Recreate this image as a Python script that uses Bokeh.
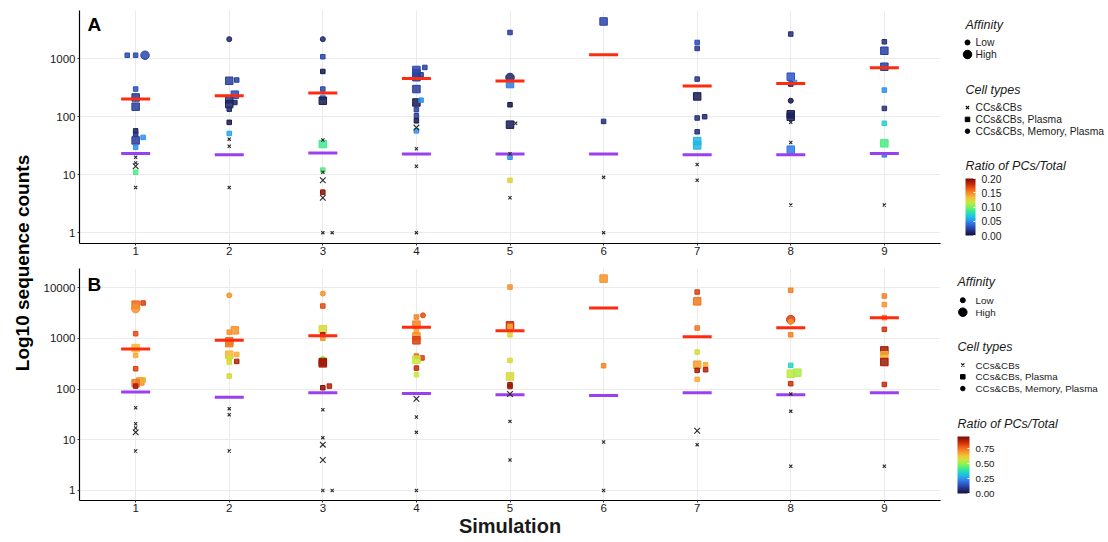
from bokeh.plotting import figure
from bokeh.models import (ColumnDataSource, LinearColorMapper, ColorBar, FixedTicker,
                          Range1d, Label, NumeralTickFormatter)
from bokeh.layouts import row, column
from bokeh.embed import file_html
from bokeh.resources import INLINE
from bokeh.core.properties import value

FONT = "Liberation Sans"

# ---------------- data ----------------
SIMULATIONS = [1, 2, 3, 4, 5, 6, 7, 8, 9]
AFFINITY_LEVELS = ["Low", "High"]
CELL_TYPES = ["CCs&CBs", "CCs&CBs, Plasma", "CCs&CBs, Memory, Plasma"]

# Panel A  (type: 0 = CCs&CBs, 1 = CCs&CBs+Plasma, 2 = CCs&CBs+Memory+Plasma; aff: 0 Low, 1 High)
A_sim = [
    1, 1, 1, 1, 1, 1, 1, 1, 1, 1, 1, 1, 1, 1, 1, 1,
    2, 2, 2, 2, 2, 2, 2, 2, 2, 2, 2, 2, 2,
    3, 3, 3, 3, 3, 3, 3, 3, 3, 3, 3, 3, 3, 3, 3,
    4, 4, 4, 4, 4, 4, 4, 4, 4, 4, 4, 4, 4, 4, 4, 4,
    5, 5, 5, 5, 5, 5, 5, 5, 5, 5,
    6, 6, 6, 6,
    7, 7, 7, 7, 7, 7, 7, 7, 7, 7, 7,
    8, 8, 8, 8, 8, 8, 8, 8, 8, 8, 8,
    9, 9, 9, 9, 9, 9, 9, 9, 9,
]
A_jit = [
    -0.09, 0, 0.1, 0, 0, 0, 0, 0, 0, 0.08, 0, 0, 0, 0, 0, 0,
    0, 0, 0.08, 0.06, 0, 0, 0.06, 0, 0, 0, 0, 0, 0,
    0, 0, 0, 0, 0, 0, 0, 0, 0, 0, 0, 0, 0, 0, 0.1,
    0.09, 0, 0, 0, 0.05, 0, 0, 0.05, 0, 0, 0, 0, 0, 0, 0, 0,
    0, 0, 0, 0, 0, 0.06, 0, 0, 0, 0,
    0, 0, 0, 0,
    0, 0, 0, 0, 0, 0.08, 0, 0, 0, 0, 0,
    0, 0, 0.04, 0, 0, 0, 0, 0, 0, 0, 0,
    0, 0, 0, 0, 0, 0, 0, 0, 0,
]
A_count = [
    1150, 1150, 1150, 300, 215, 149, 57, 50, 39, 44, 29.6, 20, 16, 14, 11, 6,
    2180, 417, 430, 240, 200, 165, 176, 135, 80, 51.5, 41, 31, 6,
    2180, 1083, 604, 300, 215, 189, 39.6, 33.8, 12, 11, 8, 5, 4, 1, 1,
    708, 640, 560, 480, 530, 300, 176, 193, 132, 104, 85, 65, 57, 28, 14, 1,
    2840, 476, 366, 161, 73, 77, 23, 20, 8, 4,
    4400, 83, 9, 1,
    1910, 1506, 446, 224, 95, 100, 55, 38, 32, 15, 8,
    2666, 490, 390, 366, 189, 110, 100, 80, 36, 27, 3,
    1963, 1374, 728, 288, 139, 77, 34.7, 22, 3,
]
A_type = [
    1, 1, 2, 1, 1, 1, 1, 1, 1, 1, 1, 0, 0, 0, 1, 0,
    2, 1, 1, 1, 1, 1, 1, 1, 1, 1, 0, 0, 0,
    2, 1, 1, 1, 1, 1, 0, 1, 1, 0, 0, 1, 0, 0, 0,
    1, 1, 1, 1, 1, 1, 1, 1, 1, 1, 1, 0, 1, 0, 0, 0,
    1, 2, 1, 1, 1, 0, 0, 1, 1, 0,
    1, 1, 0, 0,
    1, 1, 1, 1, 1, 1, 1, 1, 1, 0, 0,
    1, 1, 1, 1, 2, 1, 1, 0, 0, 1, 0,
    1, 1, 1, 1, 1, 1, 1, 1, 0,
]
A_aff = [
    0, 0, 1, 0, 1, 1, 0, 0, 1, 0, 0, 0, 0, 1, 0, 0,
    0, 1, 0, 1, 1, 1, 0, 0, 0, 0, 0, 0, 0,
    0, 0, 0, 0, 0, 1, 0, 1, 0, 0, 1, 0, 1, 0, 0,
    0, 1, 1, 1, 0, 1, 1, 0, 0, 0, 0, 1, 0, 0, 0, 0,
    0, 1, 1, 0, 1, 0, 0, 0, 0, 0,
    1, 0, 0, 0,
    0, 0, 0, 1, 0, 0, 0, 1, 1, 0, 0,
    0, 1, 0, 0, 0, 1, 1, 0, 0, 1, 0,
    0, 1, 1, 0, 0, 0, 1, 0, 0,
]
A_ratio = [
    0.028, 0.028, 0.026, 0.03, 0.02, 0.022, 0.008, 0.015, 0.022, 0.05, 0.05, 0, 0, 0, 0.09, 0,
    0.012, 0.024, 0.022, 0.028, 0.02, 0.01, 0.01, 0.012, 0.005, 0.058, 0, 0, 0,
    0.012, 0.026, 0.004, 0.026, 0.05, 0.005, 0, 0.088, 0.092, 0, 0, 0.195, 0, 0, 0,
    0.024, 0.026, 0.026, 0.024, 0.022, 0.022, 0.005, 0.05, 0.022, 0.022, 0.004, 0, 0.05, 0, 0, 0,
    0.022, 0.01, 0.045, 0.003, 0.006, 0, 0, 0.05, 0.125, 0,
    0.025, 0.015, 0, 0,
    0.028, 0.02, 0.02, 0.006, 0.015, 0.012, 0.015, 0.062, 0.062, 0, 0,
    0.015, 0.032, 0.05, 0.01, 0.003, 0.004, 0.008, 0, 0, 0.045, 0,
    0.015, 0.024, 0.024, 0.05, 0.015, 0.072, 0.09, 0.045, 0,
]
A_red = [202, 230, 256, 458, 412, 1172, 338, 375, 700]
A_purple = [23.3, 22.1, 23.6, 22.7, 22.7, 22.7, 22.1, 22.1, 23.3]
A_yticks = [1, 10, 100, 1000]
A_ratio_ticks = [0.0, 0.05, 0.10, 0.15, 0.20]
A_ratio_max = 0.20

# Panel B
B_sim = [
    1, 1, 1, 1, 1, 1, 1, 1, 1, 1, 1, 1, 1, 1, 1, 1,
    2, 2, 2, 2, 2, 2, 2, 2, 2, 2, 2, 2, 2, 2,
    3, 3, 3, 3, 3, 3, 3, 3, 3, 3, 3, 3, 3, 3, 3, 3,
    4, 4, 4, 4, 4, 4, 4, 4, 4, 4, 4, 4, 4, 4, 4,
    5, 5, 5, 5, 5, 5, 5, 5, 5, 5, 5,
    6, 6, 6, 6,
    7, 7, 7, 7, 7, 7, 7, 7, 7, 7, 7,
    8, 8, 8, 8, 8, 8, 8, 8, 8, 8, 8,
    9, 9, 9, 9, 9, 9, 9, 9, 9,
]
B_jit = [
    0, 0, 0.08, 0, 0, 0, 0, 0.05, 0, 0.08, 0, 0, 0, 0, 0, 0,
    0, 0.06, 0, 0, 0, 0, 0.08, 0, 0, 0.08, 0, 0, 0, 0,
    0, 0, 0, 0, 0, 0, 0, 0, 0, 0.07, 0, 0, 0, 0, 0, 0.1,
    0.07, 0, 0, 0, 0, 0, 0, 0.06, 0, 0, 0, 0, 0, 0, 0,
    0, 0, 0, 0, 0, 0, 0, 0, 0, 0, 0,
    0, 0, 0, 0,
    0, 0, 0, 0, 0, 0.09, 0, 0.09, 0, 0, 0,
    0, 0, 0, 0, 0, 0, 0.07, 0, 0, 0, 0,
    0, 0, 0, 0, 0, 0, 0, 0, 0,
]
B_count = [
    4600, 3840, 4950, 1230, 641, 460, 251, 141, 130, 150, 114, 42.8, 20.7, 17, 14, 6,
    7020, 1432, 1320, 869, 800, 475, 480, 396, 340, 350, 180, 41, 31, 6,
    7590, 4320, 1500, 1170, 1000, 396, 340, 320, 106, 114, 39, 11, 8, 4, 1, 1,
    2830, 2620, 1855, 1370, 1090, 910, 446, 410, 378, 258, 191, 64, 28, 14, 1,
    10200, 1796, 1700, 1170, 366, 177, 121, 112, 80, 23, 4,
    14970, 288, 9, 1,
    8150, 5340, 1590, 534, 301, 301, 233, 240, 155, 15, 8,
    8810, 2330, 2100, 1170, 292, 200, 210, 127, 80, 36.6, 3,
    6790, 4600, 2550, 1500, 577, 460, 340, 123, 3,
]
B_type = [
    1, 2, 1, 1, 1, 1, 1, 1, 1, 1, 1, 0, 0, 0, 0, 0,
    2, 1, 1, 1, 1, 1, 1, 1, 1, 1, 1, 0, 0, 0,
    2, 1, 1, 1, 1, 2, 1, 1, 1, 1, 0, 0, 0, 0, 0, 0,
    2, 1, 1, 1, 1, 1, 1, 1, 1, 1, 1, 0, 0, 0, 0,
    1, 1, 1, 1, 1, 1, 1, 1, 0, 0, 0,
    1, 1, 0, 0,
    1, 1, 1, 1, 1, 1, 1, 1, 1, 0, 0,
    1, 2, 2, 1, 1, 1, 1, 1, 0, 0, 0,
    1, 1, 1, 1, 1, 1, 1, 1, 0,
]
B_aff = [
    1, 1, 0, 0, 1, 0, 0, 1, 1, 0, 0, 0, 0, 0, 1, 0,
    0, 1, 0, 1, 1, 1, 0, 0, 0, 0, 0, 0, 0, 0,
    0, 0, 1, 0, 0, 0, 1, 1, 0, 0, 0, 0, 1, 1, 0, 0,
    0, 0, 1, 0, 1, 1, 0, 0, 1, 0, 0, 1, 0, 0, 0,
    0, 1, 0, 0, 0, 1, 0, 0, 1, 0, 0,
    1, 0, 0, 0,
    0, 1, 0, 0, 1, 0, 0, 0, 0, 1, 0,
    0, 1, 0, 0, 0, 1, 1, 0, 0, 0, 0,
    0, 0, 0, 0, 1, 1, 1, 0, 0,
]
B_ratio = [
    0.76, 0.7, 0.82, 0.8, 0.64, 0.66, 0.82, 0.7, 0.74, 0.66, 0.9, 0, 0, 0, 0, 0,
    0.7, 0.7, 0.7, 0.76, 0.73, 0.64, 0.66, 0.55, 0.58, 0.88, 0.58, 0, 0, 0,
    0.7, 0.8, 0.58, 0.9, 0.7, 0.52, 0.92, 0.9, 0.93, 0.88, 0, 0, 0, 0, 0, 0,
    0.8, 0.72, 0.72, 0.68, 0.7, 0.82, 0.76, 0.82, 0.55, 0.86, 0.55, 0, 0, 0, 0,
    0.7, 0.85, 0.66, 0.6, 0.58, 0.58, 0.92, 0.9, 0, 0, 0,
    0.7, 0.72, 0, 0,
    0.82, 0.74, 0.74, 0.57, 0.68, 0.66, 0.9, 0.88, 0.66, 0, 0,
    0.72, 0.82, 0.7, 0.72, 0.35, 0.54, 0.52, 0.84, 0, 0, 0,
    0.72, 0.7, 0.74, 0.84, 0.9, 0.66, 0.9, 0.86, 0,
]
B_red = [612, 910, 1125, 1640, 1413, 3945, 1075, 1620, 2548]
B_purple = [87, 69, 84.6, 82, 77, 74.8, 84.6, 77, 84.6]
B_yticks = [1, 10, 100, 1000, 10000]
B_ratio_ticks = [0.0, 0.25, 0.50, 0.75]
B_ratio_max = 0.95

# ---------------- style ----------------
RAMP_STOPS = [0.0, 0.08, 0.16, 0.25, 0.33, 0.42, 0.50, 0.58, 0.66, 0.74, 0.82, 0.90, 1.0]
RAMP_COLORS = ["#12123a", "#24307f", "#2f55c8", "#2f8ef0", "#1ec4e0", "#2ee8a0", "#7cf25a",
               "#c8e83a", "#f4c23a", "#f8902a", "#ee5a16", "#c92a08", "#7a0a04"]


def build_palette(n=256):
    rgb = [tuple(int(c[i:i + 2], 16) for i in (1, 3, 5)) for c in RAMP_COLORS]
    out = []
    for k in range(n):
        t = k / (n - 1)
        i = 0
        while i < len(RAMP_STOPS) - 2 and t > RAMP_STOPS[i + 1]:
            i += 1
        f = (t - RAMP_STOPS[i]) / (RAMP_STOPS[i + 1] - RAMP_STOPS[i])
        c = [round(rgb[i][j] + (rgb[i + 1][j] - rgb[i][j]) * f) for j in range(3)]
        out.append("#%02x%02x%02x" % tuple(c))
    return out


PALETTE = build_palette()
MARKERS = ["x", "square", "circle"]
SIZES = {(0, 0): 4.5, (0, 1): 8, (1, 0): 4.5, (1, 1): 7.5, (2, 0): 5, (2, 1): 8.5}
RED = "#ff2b0e"
PURPLE = "#9b40f0"
GRID = "#ebebeb"
TXT = "#1a1a1a"
HALF = 0.155

W_YL, W_MAIN, W_LEG = 36, 916, 156
H_A, H_B = 268, 274


def make_panel(sim, jit, cnt, typ, aff, ratio, red, purple, y_lo, y_hi, yticks,
               rmax, letter, letter_y, height, b_top, b_right, b_bottom, xlabel):
    p = figure(width=W_MAIN, height=height, y_axis_type="log",
               x_range=Range1d(0.4, 9.6), y_range=Range1d(y_lo, y_hi),
               output_backend="svg", toolbar_location=None,
               min_border_left=43, min_border_right=b_right,
               min_border_top=b_top, min_border_bottom=b_bottom)
    p.outline_line_color = None
    mapper = LinearColorMapper(palette=PALETTE, low=0, high=rmax)

    pts = dict(x=[], y=[], marker=[], size=[], ratio=[])
    crs = dict(x=[], y=[], size=[])
    for s, j, c, t, a, r in zip(sim, jit, cnt, typ, aff, ratio):
        if t == 0:
            crs["x"].append(s + j); crs["y"].append(c); crs["size"].append(SIZES[(t, a)])
        else:
            pts["x"].append(s + j); pts["y"].append(c); pts["marker"].append(MARKERS[t])
            pts["size"].append(SIZES[(t, a)]); pts["ratio"].append(r)

    cmap = {"field": "ratio", "transform": mapper}
    p.scatter("x", "y", source=ColumnDataSource(pts), marker="marker", size="size",
              fill_color=cmap, line_color=cmap, fill_alpha=0.85, line_width=1)

    p.segment(x0=[s - HALF for s in SIMULATIONS], x1=[s + HALF for s in SIMULATIONS],
              y0=red, y1=red, line_color=RED, line_width=3)
    p.segment(x0=[s - HALF for s in SIMULATIONS], x1=[s + HALF for s in SIMULATIONS],
              y0=purple, y1=purple, line_color=PURPLE, line_width=3)

    p.scatter("x", "y", source=ColumnDataSource(crs), marker="x", size="size",
              line_color="#2a2a2a", line_width=1.1)

    p.xaxis.ticker = FixedTicker(ticks=SIMULATIONS)
    p.yaxis.ticker = FixedTicker(ticks=yticks)
    p.yaxis.formatter = NumeralTickFormatter(format="0")
    for ax in (p.xaxis, p.yaxis):
        ax.axis_line_color = "black"
        ax.axis_line_width = 1.2
        ax.major_tick_line_color = "#333333"
        ax.major_tick_out = 2
        ax.major_tick_in = 0
        ax.minor_tick_line_color = None
        ax.major_label_text_font = FONT
        ax.major_label_text_font_size = "11.5px"
        ax.major_label_text_color = TXT
        ax.major_label_standoff = 2
    p.xaxis.major_label_standoff = 1
    p.xgrid.grid_line_color = GRID
    p.ygrid.grid_line_color = GRID
    p.xgrid.grid_line_width = 1
    p.ygrid.grid_line_width = 1
    if xlabel:
        p.xaxis.axis_label = xlabel
        p.xaxis.axis_label_text_font = FONT
        p.xaxis.axis_label_text_font_size = "20px"
        p.xaxis.axis_label_text_font_style = "bold"
        p.xaxis.axis_label_text_color = TXT
        p.xaxis.axis_label_standoff = 0

    p.add_layout(Label(x=0.485, y=letter_y, text=letter, text_font=FONT,
                       text_font_size="19px", text_font_style="bold",
                       text_baseline="top", text_align="left", text_color="black"))
    return p, mapper


def make_legend(height, mapper, ticks, tx, mx, lx, y_aff, y_cell, y_ratio, bar_bottom,
                bar_w, bar_h, lab_size):
    lf = figure(width=W_LEG, height=height, x_range=Range1d(0, W_LEG),
                y_range=Range1d(height, 0), output_backend="svg",
                toolbar_location=None, min_border=0,
                x_axis_location=None, y_axis_location=None)
    lf.grid.visible = False
    lf.outline_line_color = None

    title_kw = dict(text_font=value(FONT), text_font_size="12.5px", text_font_style="italic",
                    text_baseline="middle", text_align="left", text_color=TXT)
    lab_kw = dict(text_font=value(FONT), text_font_size=lab_size,
                  text_baseline="middle", text_align="left", text_color=TXT)

    # Affinity
    lf.text(x=[tx], y=[y_aff], text=["Affinity"], **title_kw)
    ay = [y_aff + 18 + 12 * i for i in range(len(AFFINITY_LEVELS))]
    lf.scatter(x=[mx] * len(ay), y=ay, size=[SIZES[(2, 0)], SIZES[(2, 1)]],
               marker="circle", color="black")
    lf.text(x=[lx] * len(ay), y=ay, text=AFFINITY_LEVELS, **lab_kw)

    # Cell types
    lf.text(x=[tx], y=[y_cell], text=["Cell types"], **title_kw)
    cy = [y_cell + 17.8 + 11.8 * i for i in range(len(CELL_TYPES))]
    lf.scatter(x=[mx], y=[cy[0]], size=4.5, marker="x", line_color="black", line_width=1.1)
    lf.scatter(x=[mx], y=[cy[1]], size=4.5, marker="square", color="black")
    lf.scatter(x=[mx], y=[cy[2]], size=4.5, marker="circle", color="black")
    lf.text(x=[lx] * len(cy), y=cy, text=CELL_TYPES, **lab_kw)

    # Ratio colour bar
    lf.text(x=[tx], y=[y_ratio], text=["Ratio of PCs/Total"], **title_kw)
    cb = ColorBar(color_mapper=mapper, location=(tx, bar_bottom),
                  width=bar_w, height=bar_h, padding=0, margin=0,
                  ticker=FixedTicker(ticks=ticks), formatter=NumeralTickFormatter(format="0.00"),
                  major_label_text_font=FONT, major_label_text_font_size=lab_size,
                  major_label_text_color=TXT, label_standoff=6,
                  major_tick_line_color="white", major_tick_in=2, major_tick_out=0,
                  bar_line_color=None, border_line_color=None, background_fill_color=None)
    lf.add_layout(cb, "center")
    return lf


pA, mA = make_panel(A_sim, A_jit, A_count, A_type, A_aff, A_ratio, A_red, A_purple,
                    0.65, 6800, A_yticks, A_ratio_max, "A", 6800 * 0.86,
                    H_A, 10, 5, 25, None)
pB, mB = make_panel(B_sim, B_jit, B_count, B_type, B_aff, B_ratio, B_red, B_purple,
                    0.635, 23700, B_yticks, B_ratio_max, "B", 23700 * 0.79,
                    H_B, 0, 12, 42, "Simulation")

lA = make_legend(H_A, mA, A_ratio_ticks, 13, 15, 23, 24, 89.3, 165, 33, 10, 57, "10.3px")
lB = make_legend(H_B, mB, B_ratio_ticks, 5, 10.3, 23, 13.7, 78.7, 155.3, 49, 12, 57, "9.8px")

# narrow figure that only carries the shared y-axis title
yl = figure(width=W_YL, height=H_A + H_B, x_range=Range1d(0, 1), y_range=Range1d(0, 1),
            output_backend="svg", toolbar_location=None,
            min_border_left=32, min_border_right=0, min_border_top=0, min_border_bottom=17,
            x_axis_location=None, y_axis_location="left")
yl.grid.visible = False
yl.outline_line_color = None
yl.yaxis.ticker = FixedTicker(ticks=[])
yl.yaxis.axis_line_color = None
yl.yaxis.major_tick_line_color = None
yl.yaxis.minor_tick_line_color = None
yl.yaxis.axis_label = "Log10 sequence counts"
yl.yaxis.axis_label_text_font = FONT
yl.yaxis.axis_label_text_font_size = "19px"
yl.yaxis.axis_label_text_font_style = "bold"
yl.yaxis.axis_label_text_color = "black"
yl.yaxis.axis_label_standoff = 0

layout = row(yl, column(pA, pB), column(lA, lB))
open("out.html", "w").write(file_html(layout, INLINE))
